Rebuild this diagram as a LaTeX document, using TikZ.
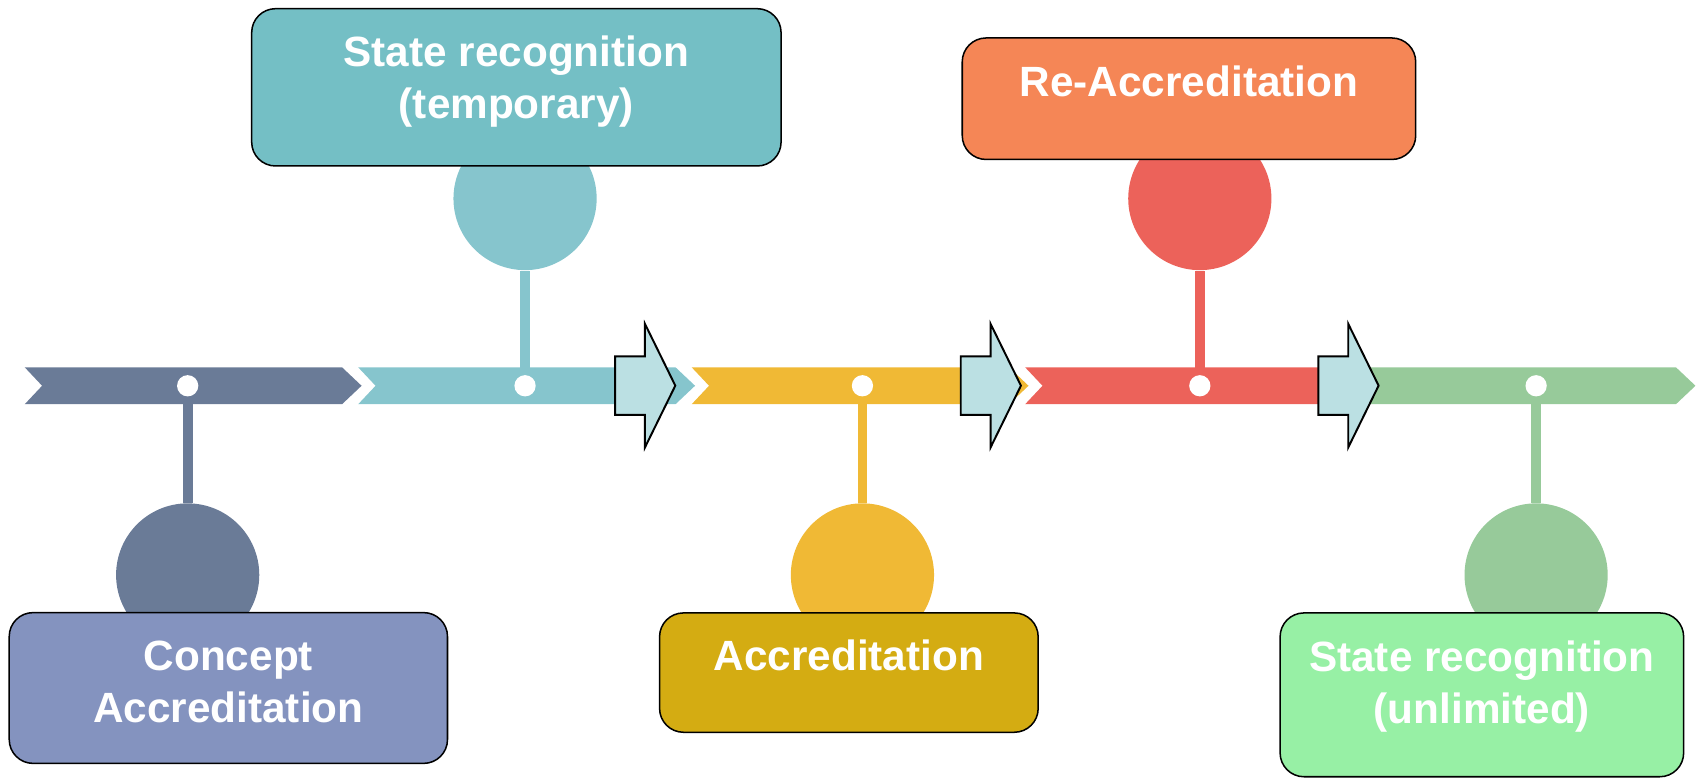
\documentclass[tikz,border=0pt]{standalone}
\usepackage{fontspec}
\setmainfont{Liberation Sans}
\usetikzlibrary{positioning}
\definecolor{bandslate}{HTML}{6A7B97}
\definecolor{bandteal}{HTML}{86C5CD}
\definecolor{bandamber}{HTML}{F0B935}
\definecolor{bandcoral}{HTML}{EC625A}
\definecolor{bandsage}{HTML}{97CA9A}
\definecolor{boxperiwinkle}{HTML}{8493BF}
\definecolor{boxteal}{HTML}{74BFC5}
\definecolor{boxmustard}{HTML}{D4AC12}
\definecolor{boxorange}{HTML}{F58656}
\definecolor{boxmint}{HTML}{97F0A5}
\definecolor{arrowfill}{HTML}{BBE0E3}

\begin{document}
\begin{tikzpicture}[x=0.5pt,y=-0.5pt,
    dot/.style={circle,fill=white,inner sep=0pt,minimum size=9.8pt},
    bulb/.style={circle,inner sep=0pt,minimum size=66pt},
    stem/.style={line width=4.5pt},
    stagebox/.style={draw=black,line width=0.7pt,rounded corners=11pt,inner sep=0pt},
    stagelabel/.style={text=white,align=center,inner sep=0pt,font=\bfseries\fontsize{19.5}{24}\selectfont},
    blockarrow/.style={draw=black,line width=0.9pt,fill=arrowfill,line join=miter}]
\useasboundingbox (0,0) rectangle (1568,717);

\foreach \x/\c in {22.8/bandslate,330.2/bandteal,637.6/bandamber,945/bandcoral,1252.4/bandsage}
    \fill[\c] (\x,338.6) -- ++(292.5,0) -- ++(18,17) -- ++(-18,17) -- ++(-292.5,0) -- ++(16,-17) -- cycle;

\node[dot] (d1) at (173,355.6) {};
\node[dot] (d2) at (484,355.6) {};
\node[dot] (d3) at (795,355.6) {};
\node[dot] (d4) at (1106,355.6) {};
\node[dot] (d5) at (1416,355.6) {};

\node[bulb,fill=bandslate] (b1) at (173,530) {};
\node[bulb,fill=bandteal] (b2) at (484,183) {};
\node[bulb,fill=bandamber] (b3) at (795,530) {};
\node[bulb,fill=bandcoral] (b4) at (1106,183) {};
\node[bulb,fill=bandsage] (b5) at (1416,530) {};

\draw[stem,bandslate] (d1) -- (b1);
\draw[stem,bandteal] (d2) -- (b2);
\draw[stem,bandamber] (d3) -- (b3);
\draw[stem,bandcoral] (d4) -- (b4);
\draw[stem,bandsage] (d5) -- (b5);

\node[stagebox,fill=boxperiwinkle,minimum width=202pt,minimum height=69.5pt] (concept) at (210.5,634.2) {};
\node[stagebox,fill=boxteal,minimum width=244pt,minimum height=72.5pt] (temporary) at (476,80.5) {};
\node[stagebox,fill=boxmustard,minimum width=174.5pt,minimum height=55pt] (accreditation) at (782.5,620) {};
\node[stagebox,fill=boxorange,minimum width=209pt,minimum height=56pt] (reaccreditation) at (1096,91) {};
\node[stagebox,fill=boxmint,minimum width=186pt,minimum height=75.5pt] (unlimited) at (1366,640.5) {};

\node[stagelabel,yshift=2.6pt] (concept-text) at (concept) {Concept\\Accreditation};
\node[stagelabel,yshift=2.5pt] (temporary-text) at (temporary) {State recognition\\(temporary)};
\node[stagelabel,yshift=7.8pt] (accreditation-text) at (accreditation) {Accreditation};
\node[stagelabel,yshift=8.2pt] (reaccreditation-text) at (reaccreditation) {Re-Accreditation};
\node[stagelabel,yshift=4pt] (unlimited-text) at (unlimited) {State recognition\\(unlimited)};

\foreach \x in {567,885.6,1215.3}
    \draw[blockarrow] (\x,328.5) -- ++(27.5,0) -- ++(0,-30) -- ++(28,57) -- ++(-28,57) -- ++(0,-30) -- ++(-27.5,0) -- cycle;
\end{tikzpicture}
\end{document}
